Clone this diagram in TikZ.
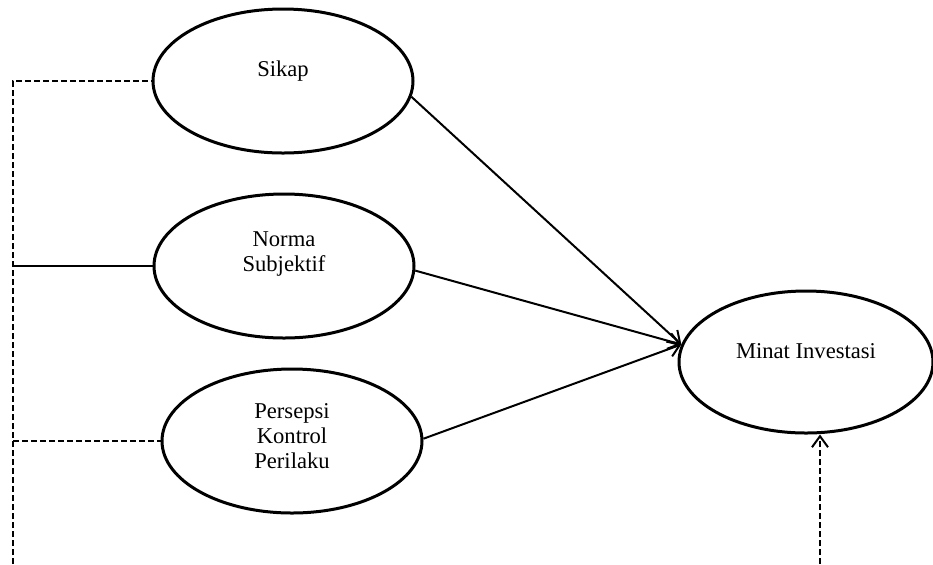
\documentclass[tikz,border=0pt]{standalone}
\usepackage{fontspec}
\setmainfont{Liberation Serif}
\usetikzlibrary{shapes.geometric,arrows.meta}

\begin{document}
\begin{tikzpicture}[x=0.5pt, y=-0.5pt,
    latent/.style={draw, ellipse, line width=1.5pt, inner sep=0pt,
      minimum width=130pt, minimum height=72pt},
    label text/.style={align=center, font=\fontsize{11.3}{12.4}\selectfont},
    dashed line/.style={dash pattern=on 3pt off 1.5pt, line width=1.1pt},
    >={Straight Barb[length=5.5pt, width=8pt, line width=1pt]}]
  \useasboundingbox (0,0) rectangle (933,564);

  \node (sikap)    [latent] at (283, 81) {};
  \node (norma)    [latent] at (284,266) {};
  \node (persepsi) [latent] at (292,441) {};
  \node (minat)    [latent, minimum width=127pt, minimum height=71pt] at (806,362) {};

  \node (sikap-t)    [label text] at (283, 71) {Sikap};
  \node (norma-t)    [label text] at (284,254) {Norma\\Subjektif};
  \node (persepsi-t) [label text] at (292,436) {Persepsi\\Kontrol\\Perilaku};
  \node (minat-t)    [label text] at (806,351) {Minat Investasi};

  \coordinate (lb) at ( 13,564);
  \coordinate (rb) at (820,564);

  \draw [dashed line] (lb) -- (lb |- sikap.west) -- (sikap.west);
  \draw [line width=1pt] (lb |- norma.west) -- (norma.west);
  \draw [dashed line] (lb |- persepsi.west) -- (persepsi.west);
  \draw [dashed line, ->] (rb) -- (rb |- minat.south);

  \draw [line width=1pt, ->] (sikap.-7) -- (minat.172);
  \draw [line width=1pt, ->] (norma.-2) -- (minat.172);
  \draw [line width=1pt, ->] (persepsi.1) -- (minat.172);
\end{tikzpicture}
\end{document}
